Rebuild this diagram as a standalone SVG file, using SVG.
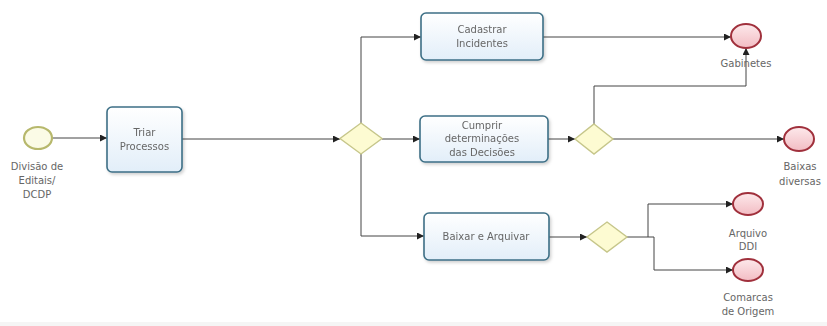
<svg xmlns="http://www.w3.org/2000/svg" width="827" height="326" viewBox="0 0 827 326">
<defs>
<style>
.lbl{font-family:"DejaVu Sans","Liberation Sans",sans-serif;font-size:10px;fill:#666;text-anchor:middle}
.task{fill:url(#gTask);stroke:#3d6f86;stroke-width:1.6}
.gw{fill:#fdfbd2;stroke:#c6c68a;stroke-width:1.4}
.end{fill:url(#gEnd);stroke:#a0303c;stroke-width:2}
.start{fill:#fbfbe6;stroke:#b7b86c;stroke-width:2.2}
.cn{fill:none;stroke:#444;stroke-width:1;marker-end:url(#arr)}
</style>
<linearGradient id="gTask" x1="0" y1="0" x2="0" y2="1">
<stop offset="0" stop-color="#ffffff"/>
<stop offset="1" stop-color="#e2eef9"/>
</linearGradient>
<linearGradient id="gEnd" x1="0" y1="0" x2="0" y2="1">
<stop offset="0" stop-color="#fde9eb"/>
<stop offset="1" stop-color="#f2bcc3"/>
</linearGradient>
<filter id="sh" x="-10%" y="-10%" width="130%" height="140%">
<feDropShadow dx="1.5" dy="2" stdDeviation="1.5" flood-color="#000" flood-opacity="0.18"/>
</filter>
<marker id="arr" markerWidth="7" markerHeight="7" refX="7" refY="3.5" orient="auto" markerUnits="userSpaceOnUse">
<path d="M0,0 L7,3.5 L0,7 Z" fill="#222"/>
</marker>
</defs>
<rect x="0" y="0" width="827" height="326" fill="#ffffff"/>
<rect x="0" y="322" width="827" height="4" fill="#f5f5f5"/>

<g id="connectors">
<path class="cn" d="M53,138 H107"/>
<path class="cn" d="M182,139 H340"/>
<path class="cn" d="M361,123 V37 H421"/>
<path class="cn" d="M382,139 H420"/>
<path class="cn" d="M361,154 V236 H424"/>
<path class="cn" d="M543,37 H731"/>
<path class="cn" d="M548,139 H575"/>
<path class="cn" d="M594,124 V86 H746 V48"/>
<path class="cn" d="M613,139 H784"/>
<path class="cn" d="M549,237 H587"/>
<path class="cn" d="M627,237 H648 V204 H733"/>
<path class="cn" d="M648,237 H654 V270 H733"/>
</g>

<g id="start">
<ellipse class="start" cx="38" cy="138" rx="14" ry="11"/>
<text class="lbl" x="37" y="170">Divisão de</text>
<text class="lbl" x="37" y="184">Editais/</text>
<text class="lbl" x="37" y="198">DCDP</text>
</g>

<g id="triar" filter="url(#sh)">
<rect class="task" x="107" y="107" width="75" height="65" rx="5"/>
<text class="lbl" x="144.5" y="136">Triar</text>
<text class="lbl" x="144.5" y="150">Processos</text>
</g>

<g id="gw1">
<path class="gw" d="M361,123 L382,138.5 L361,154 L340,138.5 Z"/>
</g>

<g id="cadastrar" filter="url(#sh)">
<rect class="task" x="421" y="13" width="122" height="47" rx="5"/>
<text class="lbl" x="482" y="33">Cadastrar</text>
<text class="lbl" x="482" y="47">Incidentes</text>
</g>

<g id="cumprir" filter="url(#sh)">
<rect class="task" x="420" y="116" width="128" height="46" rx="5"/>
<text class="lbl" x="482" y="129">Cumprir</text>
<text class="lbl" x="482" y="142">determinações</text>
<text class="lbl" x="482" y="156">das Decisões</text>
</g>

<g id="baixar" filter="url(#sh)">
<rect class="task" x="424" y="213" width="125" height="47" rx="5"/>
<text class="lbl" x="486" y="240">Baixar e Arquivar</text>
</g>

<g id="gw2">
<path class="gw" d="M594,124 L613,139 L594,154 L575,139 Z"/>
</g>

<g id="gw3">
<path class="gw" d="M607,222 L627,237 L607,252 L587,237 Z"/>
</g>

<g id="gabinetes">
<ellipse class="end" cx="746" cy="36" rx="15" ry="12"/>
<text class="lbl" x="746" y="67">Gabinetes</text>
</g>

<g id="baixas">
<ellipse class="end" cx="799" cy="139" rx="15" ry="12"/>
<text class="lbl" x="800" y="170">Baixas</text>
<text class="lbl" x="800" y="185">diversas</text>
</g>

<g id="arquivo">
<ellipse class="end" cx="748" cy="204" rx="15" ry="11"/>
<text class="lbl" x="748" y="237">Arquivo</text>
<text class="lbl" x="748" y="250">DDI</text>
</g>

<g id="comarcas">
<ellipse class="end" cx="748" cy="270" rx="15" ry="11"/>
<text class="lbl" x="748" y="301">Comarcas</text>
<text class="lbl" x="748" y="315">de Origem</text>
</g>
</svg>
